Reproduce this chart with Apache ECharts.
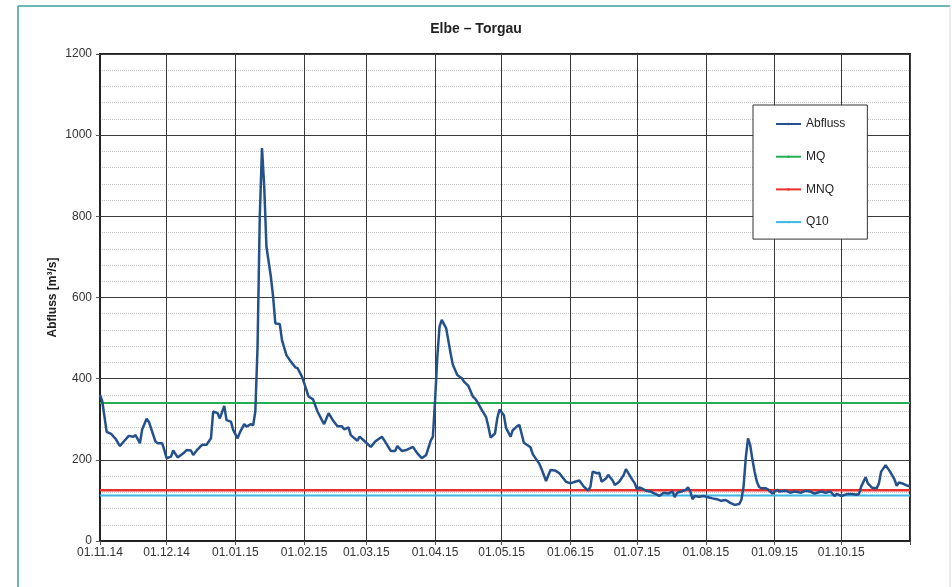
<!DOCTYPE html>
<html>
<head>
<meta charset="utf-8">
<title>Elbe – Torgau</title>
<script src="https://cdn.jsdelivr.net/npm/echarts@6/dist/echarts.min.js"></script>
<style>
  html, body { margin: 0; padding: 0; background: #fff; }
  #chart { width: 952px; height: 587px; }
</style>
</head>
<body>
<div id="chart"></div>
<script>
// Tage seit 01.11.14 und Abfluss in m³/s
var tage = [0, 1, 3, 5, 7, 9, 11, 13, 15, 16, 18, 19, 21, 22, 25, 26, 28, 29, 30, 32,
	33, 35, 38, 39, 41, 42, 44, 46, 48, 50, 51, 53, 54, 56, 57, 59, 60, 62, 63, 65,
	66, 68, 69, 70, 71, 72, 73, 74, 75, 77, 78, 79, 81, 82, 84, 86, 88, 89, 91, 92,
	94, 96, 98, 100, 101, 103, 105, 107, 109, 110, 112, 113, 116, 117, 119, 122, 124, 127, 128, 131,
	133, 134, 136, 138, 141, 143, 145, 147, 149, 150, 151, 152, 153, 154, 156, 158, 159, 161, 163, 164,
	166, 168, 169, 170, 172, 174, 175, 176, 178, 179, 180, 182, 183, 185, 186, 188, 189, 191, 194, 195,
	198, 199, 201, 203, 205, 207, 210, 212, 214, 216, 218, 220, 221, 222, 224, 225, 226, 228, 229, 231,
	232, 234, 236, 237, 238, 240, 241, 242, 243, 244, 246, 248, 250, 252, 254, 256, 258, 259, 260, 262,
	264, 265, 266, 267, 268, 270, 272, 274, 276, 278, 280, 282, 284, 286, 288, 289, 290, 291, 292, 293,
	294, 295, 296, 297, 298, 300, 301, 303, 305, 306, 309, 311, 313, 316, 318, 320, 322, 325, 327, 329,
	331, 332, 334, 337, 339, 341, 342, 343, 345, 346, 348, 350, 351, 352, 354, 356, 358, 359, 360, 362,
	364, 365];
var abfluss = [360, 345, 269, 264, 252, 234, 247, 259, 257, 261, 241, 275, 301, 294, 245, 241, 241, 224, 204, 208,
	223, 206, 218, 224, 223, 212, 226, 237, 237, 253, 319, 315, 302, 333, 298, 294, 274, 253, 267, 288,
	282, 288, 285, 319, 480, 800, 968, 873, 725, 651, 602, 536, 535, 495, 458, 442, 428, 426, 405, 389,
	356, 349, 319, 298, 288, 315, 297, 283, 283, 275, 280, 261, 247, 257, 247, 232, 245, 257, 249, 222,
	222, 234, 222, 224, 232, 216, 204, 212, 247, 257, 347, 454, 528, 545, 524, 462, 434, 409, 401, 393,
	382, 356, 351, 343, 323, 305, 282, 255, 265, 302, 324, 310, 278, 257, 273, 283, 286, 242, 231, 214,
	190, 177, 148, 175, 174, 167, 146, 142, 146, 149, 134, 124, 134, 171, 167, 168, 146, 154, 163, 149,
	138, 146, 163, 177, 168, 150, 142, 127, 132, 130, 124, 122, 117, 111, 119, 117, 122, 108, 119, 122,
	126, 132, 122, 103, 111, 109, 111, 108, 105, 103, 99, 101, 94, 89, 91, 101, 134, 205, 253, 236,
	200, 170, 146, 133, 130, 130, 127, 117, 126, 122, 124, 119, 122, 119, 124, 122, 117, 122, 119, 122,
	111, 116, 111, 116, 116, 114, 116, 134, 157, 142, 131, 130, 142, 171, 187, 171, 152, 136, 144, 141,
	136, 135];

// Kennwerte
var mq = 340;
var mnq = 125;
var q10 = 112;

// Monatsanfänge (Tage seit 01.11.14) und Beschriftung
var monatsTage = [0, 30, 61, 92, 120, 151, 181, 212, 242, 273, 304, 334, 365];
var monatsLabels = ['01.11.14', '01.12.14', '01.01.15', '01.02.15', '01.03.15', '01.04.15',
	'01.05.15', '01.06.15', '01.07.15', '01.08.15', '01.09.15', '01.10.15', ''];

var yTicks = [0, 200, 400, 600, 800, 1000, 1200];

var abflussData = [];
for (var i = 0; i < tage.length; i++) {
	abflussData.push([tage[i], abfluss[i]]);
}
function konstante(v) {
	return [[0, v], [365, v]];
}

var chart = echarts.init(document.getElementById('chart'));
var option = {
	backgroundColor: '#fff',
	animation: false,
	textStyle: {
		fontFamily: 'Liberation Sans, Arial, sans-serif'
	},
	title: {
		text: 'Elbe – Torgau',
		left: 'center',
		top: 17,
		textStyle: {
			fontSize: 14,
			fontWeight: 'bold',
			color: '#222'
		}
	},
	graphic: [{
		type: 'line',
		shape: { x1: 18, y1: 6, x2: 950, y2: 6 },
		style: { stroke: '#3f9c9c', lineWidth: 1.5 }
	}, {
		type: 'line',
		shape: { x1: 18, y1: 6, x2: 18, y2: 587 },
		style: { stroke: '#3f9c9c', lineWidth: 1.5 }
	}, {
		type: 'line',
		shape: { x1: 950, y1: 6, x2: 950, y2: 587 },
		style: { stroke: '#d5d5d5', lineWidth: 1 }
	}],
	legend: {
		orient: 'vertical',
		left: 753,
		top: 105,
		padding: [13, 22, 11, 22],
		itemGap: 20.7,
		itemWidth: 25,
		itemHeight: 3,
		backgroundColor: '#fff',
		borderColor: '#333',
		borderWidth: 1,
		textStyle: {
			fontSize: 12,
			color: '#222'
		},
		data: ['Abfluss', 'MQ', 'MNQ', 'Q10']
	},
	grid: {
		show: true,
		left: 100,
		right: 42,
		top: 54,
		bottom: 46,
		borderColor: '#222',
		borderWidth: 2,
		backgroundColor: '#fff'
	},
	xAxis: {
		type: 'value',
		min: 0,
		max: 365,
		axisLine: {
			show: true,
			onZero: false,
			lineStyle: { color: '#222', width: 2 }
		},
		axisTick: {
			show: true,
			length: 4,
			customValues: monatsTage,
			lineStyle: { color: '#555' }
		},
		axisLabel: {
			customValues: monatsTage,
			margin: 6,
			fontSize: 12,
			color: '#333',
			formatter: function(v) {
				var idx = monatsTage.indexOf(v);
				return idx >= 0 ? monatsLabels[idx] : '';
			}
		},
		splitLine: {
			show: true,
			lineStyle: { color: '#3a3a3a', width: 1 }
		}
	},
	yAxis: {
		type: 'value',
		min: 0,
		max: 1200,
		interval: 200,
		name: 'Abfluss [m³/s]',
		nameLocation: 'middle',
		nameGap: 41,
		nameMoveOverlap: false,
		nameTextStyle: {
			fontSize: 12,
			fontWeight: 'bold',
			color: '#222'
		},
		axisLine: {
			show: true,
			lineStyle: { color: '#222', width: 2 }
		},
		axisTick: {
			show: true,
			length: 4,
			lineStyle: { color: '#555' }
		},
		axisLabel: {
			margin: 8,
			fontSize: 12,
			color: '#333',
			formatter: function(v) {
				return yTicks.indexOf(v) >= 0 ? String(v) : '';
			}
		},
		splitLine: {
			show: true,
			lineStyle: { color: '#3a3a3a', width: 1 }
		},
		minorTick: {
			show: false,
			splitNumber: 5
		},
		minorSplitLine: {
			show: true,
			lineStyle: { color: '#c4c4c4', type: 'dotted', width: 1 }
		}
	},
	series: [{
		name: 'Abfluss',
		type: 'line',
		symbol: 'none',
		z: 5,
		lineStyle: { color: '#24508c', width: 2.5 },
		itemStyle: { color: '#24508c' },
		data: abflussData
	}, {
		name: 'MQ',
		type: 'line',
		symbol: 'none',
		z: 3,
		lineStyle: { color: '#25ad52', width: 2 },
		itemStyle: { color: '#25ad52' },
		data: konstante(mq)
	}, {
		name: 'MNQ',
		type: 'line',
		symbol: 'none',
		z: 4,
		lineStyle: { color: '#e8312d', width: 2.5 },
		itemStyle: { color: '#e8312d' },
		data: konstante(mnq)
	}, {
		name: 'Q10',
		type: 'line',
		symbol: 'none',
		z: 3,
		lineStyle: { color: '#3db6e6', width: 2 },
		itemStyle: { color: '#3db6e6' },
		data: konstante(q10)
	}]
};
chart.setOption(option);
</script>
</body>
</html>
